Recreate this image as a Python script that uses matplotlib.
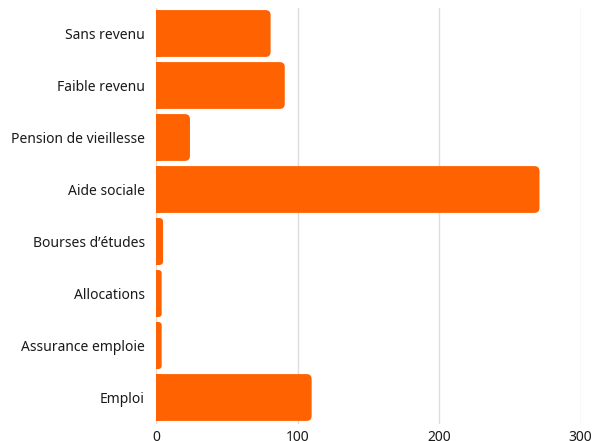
import matplotlib
matplotlib.use("Agg")
import matplotlib.pyplot as plt
from matplotlib.patches import FancyBboxPatch, Rectangle

categories = ["Sans revenu", "Faible revenu", "Pension de vieillesse", "Aide sociale",
              "Bourses d\u2019\u00e9tudes", "Allocations", "Assurance emploie", "Emploi"]
values = [81, 91, 24, 271, 5, 4, 4, 110]
xticks = [0, 100, 200, 300]

color = "#FF6200"
plt.rcParams['font.family'] = ['Noto Sans', 'DejaVu Sans']

fig = plt.figure(figsize=(5.94, 4.41), dpi=100)
ax = fig.add_axes([156/594, 1-423.5/441, (580.5-156)/594, 416/441])

ypos = list(range(len(categories)))
bars = ax.barh(ypos, values, height=0.9, color=color, zorder=2)
ax.set_xlim(0, 300)
ax.set_ylim(len(categories)-0.5, -0.5)

# rounded right corners
px_per_x = (580.5-156)/300
px_per_y = 52.0
r_px = 5
for b in bars:
    x, y = b.get_x(), b.get_y()
    w, h = b.get_width(), b.get_height()
    b.set_visible(False)
    rs = min(r_px/px_per_x, w/2)
    aspect = (px_per_x/px_per_y)
    p = FancyBboxPatch((x, y), w, h,
                       boxstyle=f"round,pad=0,rounding_size={rs}",
                       mutation_aspect=aspect, facecolor=color, edgecolor='none', zorder=2)
    ax.add_patch(p)
    ax.add_patch(Rectangle((x, y), min(rs, w), h, facecolor=color, edgecolor='none', zorder=2))

ax.set_yticks(ypos)
ax.set_yticklabels(categories, fontsize=10, color="#1a1a1a", fontweight=500)
ax.set_xticks(xticks)
ax.set_xticklabels([str(t) for t in xticks], fontsize=10, color="#1a1a1a", fontweight=500)
ax.tick_params(axis='both', length=0)
ax.tick_params(axis='y', pad=8)
ax.tick_params(axis='x', pad=5)
for s in ax.spines.values():
    s.set_visible(False)
ax.grid(axis='x', color="#dddddd", linewidth=1, zorder=0)
ax.set_axisbelow(True)

fig.savefig("out.png", dpi=100)
